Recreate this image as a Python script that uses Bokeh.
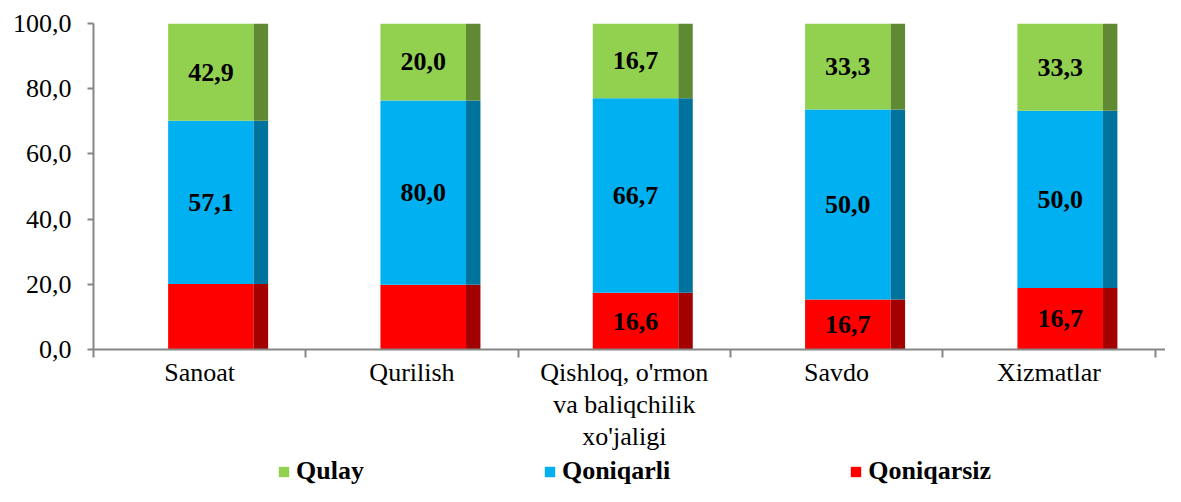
from bokeh.plotting import figure
from bokeh.layouts import column
from bokeh.models import Range1d, FixedTicker, ColumnDataSource, Legend, LegendItem
from bokeh.core.properties import value
from bokeh.embed import file_html
from bokeh.resources import INLINE

# ---- data ----
categories = ["Sanoat", "Qurilish", "Qishloq, o'rmon\nva baliqchilik\nxo'jaligi", "Savdo", "Xizmatlar"]
series_names = ["Qulay", "Qoniqarli", "Qoniqarsiz"]
# data labels shown on the bars
qulay_labels = [42.9, 20.0, 16.7, 33.3, 33.3]
qoniqarli_labels = [57.1, 80.0, 66.7, 50.0, 50.0]
qoniqarsiz_labels = [None, None, 16.6, 16.7, 16.7]
# segment heights as drawn in the picture
qoniqarsiz = [20.1, 19.9, 17.4, 15.3, 18.9]
qoniqarli = [50.1, 56.5, 59.7, 58.3, 54.3]
qulay = [29.8, 23.6, 22.9, 26.4, 26.8]
y_ticks = [0, 20, 40, 60, 80, 100]

# ---- styles ----
FONT = "'Liberation Serif', 'Times New Roman', serif"
AXIS_COLOR = "#868686"
front_colors = ["#FF0000", "#00B0F0", "#92D050"]   # bottom -> top
side_colors = ["#A30000", "#00739C", "#5F8A33"]

n = len(categories)
FRONT_OFF, FRONT_W, SIDE_W = 0.3515, 0.403, 0.068

src = ColumnDataSource(dict(
    xf=[i + FRONT_OFF + FRONT_W / 2 for i in range(n)],
    xs=[i + FRONT_OFF + FRONT_W + SIDE_W / 2 for i in range(n)],
    qoniqarsiz=qoniqarsiz, qoniqarli=qoniqarli, qulay=qulay,
))

p = figure(frame_width=1072, frame_height=326, output_backend="svg", toolbar_location=None,
           x_range=Range1d(0, 5.049), y_range=Range1d(0, 100),
           min_border_left=93, min_border_right=0, min_border_top=23, min_border_bottom=0)
p.outline_line_color = None
p.xgrid.visible = False
p.ygrid.visible = False

stackers = ["qoniqarsiz", "qoniqarli", "qulay"]
front = p.vbar_stack(stackers, x="xf", width=FRONT_W, source=src,
                     fill_color=front_colors, line_color=None)
p.vbar_stack(stackers, x="xs", width=SIDE_W, source=src,
             fill_color=side_colors, line_color=None)

# data labels
lx, ly, lt = [], [], []
for i in range(n):
    segs = [(qoniqarsiz[i], qoniqarsiz_labels[i]), (qoniqarli[i], qoniqarli_labels[i]), (qulay[i], qulay_labels[i])]
    base = 0.0
    for h, lab in segs:
        if lab is not None:
            lx.append(i + FRONT_OFF + FRONT_W / 2)
            ly.append(base + h / 2)
            lt.append(f"{lab:.1f}".replace(".", ","))
        base += h
p.text(x=lx, y=ly, text=lt, text_align="center", text_baseline="middle",
       text_font=value(FONT), text_font_style="bold", text_font_size="26px", text_color="black")

# y axis
p.yaxis.ticker = FixedTicker(ticks=y_ticks)
p.yaxis.major_label_overrides = {t: f"{t:.1f}".replace(".", ",") for t in y_ticks}
p.yaxis.major_label_text_font = FONT
p.yaxis.major_label_text_font_size = "26px"
p.yaxis.major_label_text_color = "black"
p.yaxis.major_label_standoff = 16
p.yaxis.major_tick_out = 6
p.yaxis.major_tick_in = 0
p.yaxis.minor_tick_line_color = None
p.yaxis.axis_line_color = AXIS_COLOR
p.yaxis.axis_line_width = 2
p.yaxis.major_tick_line_color = AXIS_COLOR
p.yaxis.major_tick_line_width = 2

# x axis
centers = [i + 0.5 for i in range(n)]
p.xaxis.ticker = FixedTicker(ticks=centers, minor_ticks=list(range(n + 1)))
p.xaxis.major_label_overrides = {c: categories[i] for i, c in enumerate(centers)}
p.xaxis.major_label_text_font = FONT
p.xaxis.major_label_text_font_size = "26px"
p.xaxis.major_label_text_color = "black"
p.xaxis.major_label_text_line_height = 1.12
p.xaxis.major_label_standoff = 0
p.xaxis.major_tick_out = 0
p.xaxis.major_tick_in = 0
p.xaxis.major_tick_line_color = None
p.xaxis.minor_tick_out = 8
p.xaxis.minor_tick_in = 0
p.xaxis.minor_tick_line_color = AXIS_COLOR
p.xaxis.minor_tick_line_width = 2
p.xaxis.axis_line_color = AXIS_COLOR
p.xaxis.axis_line_width = 2

# ---- legend strip (separate figure below the chart) ----
lg = figure(frame_width=1072, frame_height=32, output_backend="svg", toolbar_location=None,
            x_range=Range1d(0, 1), y_range=Range1d(0, 1),
            min_border_left=93, min_border_right=0, min_border_top=0, min_border_bottom=0)
lg.axis.visible = False
lg.xgrid.visible = False
lg.ygrid.visible = False
lg.outline_line_color = None
legend_colors = [front_colors[2], front_colors[1], front_colors[0]]
items = []
for name, col in zip(series_names, legend_colors):
    # zero-size bar: only its colour is used, for the legend swatch
    r = lg.vbar(x=[0.5], top=[0], bottom=[0], width=0, fill_color=col, line_color=None)
    items.append(LegendItem(label=name, renderers=[r]))

legend = Legend(items=items, orientation="horizontal", location=(184, 0))
legend.margin = 0
legend.padding = 0
legend.spacing = 179
legend.border_line_color = None
legend.background_fill_alpha = 0
legend.glyph_width = 13
legend.glyph_height = 13
legend.label_standoff = 6
legend.label_height = 24
legend.label_text_font = FONT
legend.label_text_font_style = "bold"
legend.label_text_font_size = "26px"
legend.label_text_color = "black"
lg.add_layout(legend, "center")

layout = column(p, lg, spacing=0)
open("out.html", "w").write(file_html(layout, INLINE))
